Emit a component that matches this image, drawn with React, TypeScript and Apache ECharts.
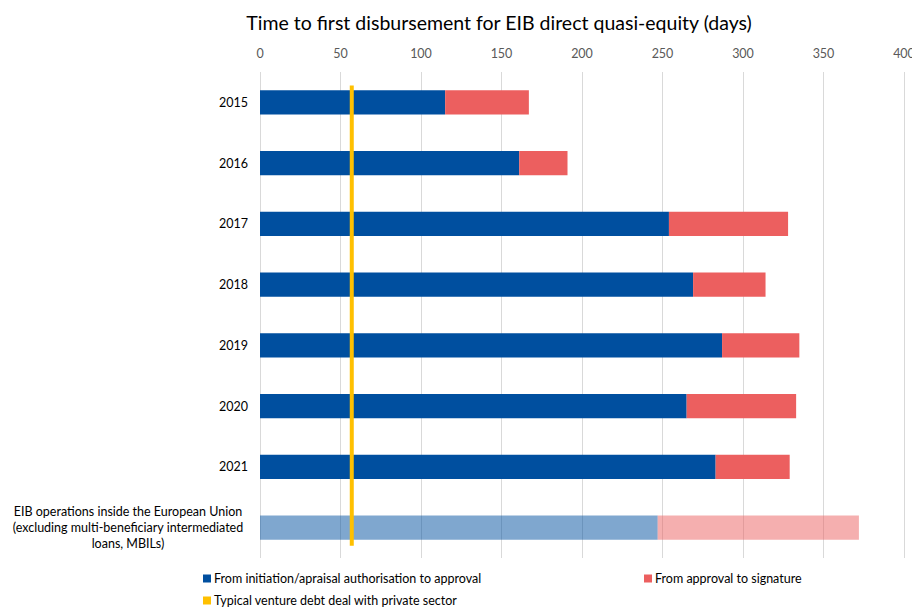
import React, { useEffect, useRef } from "react";
import * as echarts from "echarts";

const categories = ["2015", "2016", "2017", "2018", "2019", "2020", "2021", "EIB"];
const eibLabelLines = [
  "EIB operations inside the European Union",
  "(excluding multi-beneficiary intermediated",
  "loans, MBILs)",
];
const approvalDays = [115, 161, 254, 269, 287, 265, 283, 247];
const signatureDays = [52, 30, 74, 45, 48, 68, 46, 125];
const ventureDebtDays = 57;
const seriesNames = [
  "From initiation/apraisal authorisation to approval",
  "From approval to signature",
  "Typical venture debt deal with private sector",
];
const xTicks = { min: 0, max: 400, interval: 50 };

const BLUE = "#004f9f";
const RED = "#ec5f5f";
const YELLOW = "#ffc000";
const FONT = "Lato";
const FS = 12.5;

export default function App() {
  const ref = useRef<HTMLDivElement>(null);
  useEffect(() => {
    document.body.style.margin = "0";
    const chart = echarts.init(ref.current!, null, { renderer: "svg" });
    const last = categories.length - 1;
    const legendText = { fontFamily: FONT, fontSize: FS, color: "#000", padding: [0, 0, 0, -2] };
    chart.setOption({
      animation: false,
      textStyle: { fontFamily: FONT },
      title: {
        text: "Time to first disbursement for EIB direct quasi-equity (days)",
        left: 494,
        textAlign: "center",
        top: 7,
        textStyle: { fontFamily: FONT, fontSize: 19.5, fontWeight: "normal", color: "#000" },
      },
      grid: { left: 260, right: 8, top: 72, bottom: 50, outerBoundsMode: "none", containLabel: false },
      legend: [
        {
          left: 198,
          top: 567,
          itemWidth: 8,
          itemHeight: 8,
          icon: "rect",
          data: [seriesNames[0]],
          textStyle: legendText,
        },
        {
          left: 639,
          top: 567,
          itemWidth: 8,
          itemHeight: 8,
          icon: "rect",
          data: [seriesNames[1]],
          textStyle: legendText,
        },
        {
          left: 198,
          top: 589,
          itemWidth: 8,
          itemHeight: 8,
          icon: "rect",
          data: [seriesNames[2]],
          textStyle: legendText,
        },
      ],
      xAxis: {
        type: "value",
        position: "top",
        min: xTicks.min,
        max: xTicks.max,
        interval: xTicks.interval,
        axisLine: { show: false },
        axisTick: { show: false },
        axisLabel: { color: "#595959", fontSize: FS, margin: 12, fontFamily: FONT },
        splitLine: { lineStyle: { color: "#d9d9d9", width: 1 } },
      },
      yAxis: [
        {
          type: "category",
          inverse: true,
          data: categories,
          axisLine: { show: false },
          axisTick: { show: false },
          axisLabel: {
            margin: 12,
            color: "#000",
            fontSize: FS,
            fontFamily: FONT,
            formatter: (v: string) =>
              v === "EIB" ? eibLabelLines.map((l) => `{c|${l}}`).join("\n") : v,
            rich: {
              c: { width: 240, align: "center", fontSize: FS, fontFamily: FONT, lineHeight: 16, color: "#000" },
            },
          },
        },
        { type: "value", min: 0, max: 1, show: false },
      ],
      series: [
        {
          name: seriesNames[0],
          type: "bar",
          stack: "t",
          barWidth: "40%",
          itemStyle: { color: BLUE },
          data: approvalDays.map((v, i) =>
            i === last ? { value: v, itemStyle: { color: BLUE, opacity: 0.5 } } : v
          ),
        },
        {
          name: seriesNames[1],
          type: "bar",
          stack: "t",
          barWidth: "40%",
          itemStyle: { color: RED },
          data: signatureDays.map((v, i) =>
            i === last ? { value: v, itemStyle: { color: RED, opacity: 0.5 } } : v
          ),
        },
        {
          name: seriesNames[2],
          type: "line",
          yAxisIndex: 1,
          symbol: "none",
          itemStyle: { color: YELLOW },
          lineStyle: { color: YELLOW, width: 4 },
          data: [
            [ventureDebtDays, 0.972],
            [ventureDebtDays, 0.025],
          ],
          z: 5,
        },
      ],
    });
    return () => chart.dispose();
  }, []);
  return <div ref={ref} style={{ width: 912, height: 608 }} />;
}
